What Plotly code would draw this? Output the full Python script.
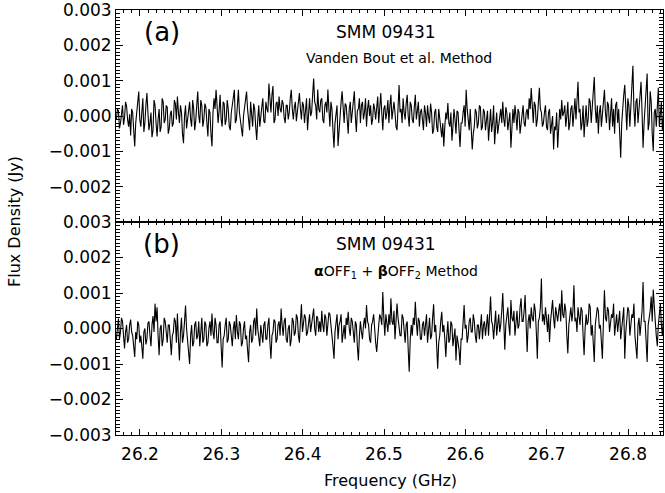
import numpy as np
import plotly.graph_objects as go

# Channel frequency grid (GHz)
freq_start = 26.171
freq_step = 0.00125

# Panel (a): Vanden Bout et al. method, flux in mJy
flux_a_mjy = [
    -0.1, 0.2, 0.15, -0.35, -0.2, 0.1, 0.3, -0.25, -0.05, 0.4, 0.28, -0.1, -0.3, 0.05, -0.55, 0.2, 0.1, -0.4, -0.86, -0.2,
    0.2, 0.4, 0.69, -0.1, -0.3, 0.2, 0.5, -0.45, -0.2, 0.3, 0.65, 0.1, -0.4, -0.2, 0.1, -0.6, -0.4, 0.45, 0.3, -0.2,
    -0.58, -0.1, 0.2, -0.45, -0.3, 0.5, 0.4, -0.2, -0.1, 0.3, 0.25, -0.5, -0.35, 0.05, 0.15, -0.3, -0.2, 0.45, 0.35, -0.1,
    0.55, 0.1, -0.2, 0.3, 0.1, -0.5, -0.77, 0.0, 0.3, -0.35, -0.1, 0.25, 0.4, -0.1, -0.3, 0.45, 0.2, -0.4, -0.15, 0.3,
    0.69, 0.0, -0.2, 0.45, 0.3, -0.3, -0.1, 0.35, 0.25, -0.2, -0.58, 0.2, 0.1, -0.5, -0.86, 0.1, 0.5, 0.2, 0.74, 0.3,
    -0.2, 0.15, 0.6, -0.1, -0.3, 0.4, 0.35, -0.25, -0.1, 0.45, 0.2, -0.3, -0.4, 0.1, 0.3, 0.5, 0.74, -0.2, -0.1, 0.3,
    0.74, 0.1, -0.2, -0.4, -0.58, 0.0, 0.3, 0.5, 0.69, 0.2, -0.1, -0.4, 0.4, 0.1, -0.3, 0.35, 0.2, -0.3, -0.68, -0.1,
    0.3, -0.3, -0.1, 0.25, 0.5, -0.15, -0.2, 0.4, 0.2, 0.1, 0.92, 0.3, 0.1, 0.6, 0.85, -0.2, -0.1, 0.35, 0.4, 0.0,
    0.55, 0.2, 0.1, 0.45, 0.35, -0.05, -0.2, 0.3, 0.3, -0.1, 0.1, 0.5, 0.74, 0.2, -0.1, 0.25, 0.4, -0.15, 0.2, 0.45,
    0.65, 0.2, -0.1, 0.4, 0.3, -0.2, 0.2, 0.5, -0.4, 0.1, 0.5, 0.0, 0.1, 0.6, 1.06, 0.4, 0.3, -0.1, 0.75, 0.2,
    0.1, 0.45, 0.5, -0.1, -0.2, 0.3, 0.4, 0.1, 0.75, 0.2, -0.3, 0.4, 0.2, -0.4, -0.9, -0.2, 0.1, 0.3, -0.85, -0.3,
    0.2, 0.4, 0.7, 0.1, -0.2, 0.35, 0.3, -0.1, -0.5, 0.2, 0.4, -0.2, 0.1, 0.5, 0.7, 0.0, -0.45, 0.15, 0.2, 0.5,
    -0.2, 0.3, 0.4, -0.1, 0.1, 0.5, -0.3, 0.2, 0.45, 0.0, 0.3, -0.25, -0.1, 0.35, 0.2, -0.1, 0.4, 0.55, -0.2, 0.25,
    0.65, 0.1, -0.4, 0.2, 0.3, -0.1, 0.1, 0.45, -0.2, 0.3, 0.6, -0.1, 0.2, 0.4, 0.1, -0.3, -0.4, 0.3, 0.88, 0.1,
    0.2, -0.2, 0.5, 0.1, -0.1, 0.35, 0.6, 0.0, -0.3, 0.4, 0.3, -0.1, -0.2, 0.25, 0.6, -0.1, 0.1, 0.4, -0.3, 0.1,
    0.2, -0.2, -0.4, 0.3, 0.1, -0.3, 0.3, 0.0, -0.2, 0.35, 0.1, -0.5, -0.4, 0.1, 0.2, -0.3, -0.45, 0.2, -0.1, -0.5,
    -0.6, -0.2, -0.86, -0.3, 0.1, -0.1, 0.37, -0.2, -0.3, 0.1, -0.7, -0.3, 0.2, -0.1, -0.5, 0.15, 0.1, -0.4, -0.88, -0.2,
    -0.2, 0.1, 0.3, -0.3, 0.74, 0.2, -0.1, -0.4, 0.2, -0.3, -0.95, -0.5, -0.3, 0.2, 0.1, -0.35, -0.2, 0.3, 0.25, -0.4,
    -0.3, 0.2, 0.1, -0.4, -0.1, 0.15, -0.7, -0.2, 0.2, -0.45, -0.2, 0.3, -0.8, -0.3, 0.1, -0.5, -0.3, 0.0, 0.2, -0.2,
    0.4, -0.1, -0.3, 0.25, 0.1, -0.4, -0.2, 0.1, -0.9, -0.3, 0.2, -0.2, 0.3, 0.0, -0.4, 0.2, 0.1, -0.5, -0.2, 0.15,
    0.3, -0.2, -0.3, 0.1, 0.2, -0.1, 0.5, 0.2, 0.79, 0.3, -0.2, 0.4, 0.3, -0.3, -0.1, 0.35, 0.8, 0.2, 0.1, -0.3,
    -0.2, 0.1, 0.3, -0.3, -0.4, 0.1, 0.2, -0.5, -0.2, 0.0, -0.95, -0.3, -0.4, 0.1, -0.9, -0.2, 0.2, -0.1, 0.45, 0.0,
    0.1, 0.3, -0.3, 0.0, 0.4, -0.4, -0.2, 0.2, 0.3, -0.3, 0.1, 0.5, -0.1, 0.4, 0.97, 0.1, 0.2, -0.4, -0.2, 0.3,
    -0.6, -0.1, 0.3, -0.3, -0.1, 0.5, 0.4, -0.2, 0.2, 0.6, 1.1, 0.2, -0.2, 0.3, -0.5, 0.1, 0.3, -0.3, 0.1, 0.5,
    0.74, 0.1, -0.2, 0.4, 0.3, -0.4, 0.1, 0.5, -0.3, 0.2, -0.5, 0.3, 0.4, -0.2, 0.2, -0.6, -1.18, -0.2, 0.3, 0.6,
    0.88, 0.1, -0.4, 0.5, 0.3, -0.3, 0.2, 0.7, 1.42, 0.2, -0.3, 0.4, 0.5, -0.2, 0.2, 0.6, 0.97, 0.1, -0.9, -0.2,
    0.3, 0.6, 1.2, -0.4, -0.2, 0.7, 0.4, -0.5, -1.0, 0.1, 0.2, -0.3, 0.5, 0.8, -0.3, 0.2, 0.4, -0.4, 0.1, 0.3,
]

# Panel (b): alpha OFF1 + beta OFF2 method, flux in mJy
flux_b_mjy = [
    -0.3, 0.0, 0.28, -0.3, -0.1, 0.3, 0.2, -0.2, -0.56, -0.1, 0.1, -0.4, -0.3, 0.1, 0.25, -0.1, -0.2, -0.5, -0.8, -0.1,
    -0.3, 0.2, 0.1, -0.4, -0.2, -0.5, -0.85, -0.1, 0.0, -0.45, -0.3, 0.15, 0.2, -0.2, -0.5, 0.1, 0.35, -0.1, 0.7, 0.2,
    0.6, -0.2, -0.75, 0.0, 0.1, -0.5, -0.3, 0.3, 0.2, -0.1, -0.4, 0.1, 0.1, -0.3, -0.75, -0.2, -0.1, 0.3, 0.2, -0.4,
    0.42, -0.3, -0.9, -0.1, 0.3, -0.4, -0.2, 0.2, 0.65, 0.0, -0.3, -0.6, -1.0, -0.2, 0.1, -0.5, -0.4, 0.1, 0.2, -0.3,
    -0.2, 0.2, -0.5, -0.1, 0.3, -0.4, -0.3, 0.2, 0.1, -0.5, -0.4, 0.0, 0.2, -0.2, 0.42, -0.1, -0.3, 0.3, 0.1, -0.4,
    -0.4, 0.1, 0.2, -0.5, -1.1, -0.3, -0.2, 0.1, 0.3, -0.4, -0.3, 0.2, 0.1, -0.2, -0.5, 0.0, 0.2, -0.3, 0.38, -0.1,
    -0.3, 0.2, 0.1, -0.5, -0.4, 0.0, 0.2, -0.3, -0.2, -0.6, -0.95, -0.1, 0.1, -0.4, -0.3, 0.2, 0.3, -0.2, 0.56, 0.0,
    -0.2, -0.5, 0.1, -0.2, -0.4, 0.1, 0.2, -0.3, -0.3, 0.1, 0.3, -0.4, -0.85, -0.2, -0.1, 0.25, 0.2, -0.4, -0.3, 0.1,
    0.2, -0.2, 0.56, 0.1, -0.2, 0.2, 0.3, -0.3, -0.4, 0.0, 0.1, -0.5, -0.3, 0.3, 0.2, -0.2, -0.1, 0.4, 0.3, -0.2,
    -0.4, 0.2, 0.68, -0.1, 0.1, 0.4, 0.3, -0.2, -0.1, 0.25, 0.4, -0.1, 0.1, 0.3, 0.56, 0.0, -0.2, 0.35, 0.3, -0.1,
    0.2, -0.1, 0.5, 0.1, -0.1, 0.4, 0.3, -0.2, 0.1, 0.45, 0.4, 0.0, -0.2, -0.5, -0.85, -0.1, 0.2, 0.4, -0.3, 0.1,
    0.2, 0.4, -0.4, -0.1, 0.1, -0.3, 0.3, 0.1, 0.47, 0.0, -0.2, 0.3, 0.2, -0.1, -0.4, 0.2, 0.1, -0.5, -0.9, -0.2,
    0.2, -0.1, -0.3, 0.1, 0.3, 0.0, 0.66, 0.2, 0.1, -0.3, -0.4, 0.1, 0.2, 0.4, -0.2, -0.4, -0.66, -0.1, 0.1, 0.4,
    0.3, 0.1, 1.03, 0.3, -0.2, 0.4, 0.2, -0.1, 0.4, 0.1, 0.85, 0.2, 0.1, 0.5, -0.3, 0.1, 0.7, 0.3, 0.1, -0.2,
    -0.2, 0.4, 0.3, -0.1, -0.4, 0.1, 0.2, -0.6, -1.22, -0.3, 0.1, -0.2, 0.3, 0.1, 0.75, 0.2, -0.2, 0.3, 0.2, -0.3,
    -0.3, 0.1, 0.2, -0.2, 0.1, 0.4, -0.4, 0.0, 0.3, -0.3, -0.2, 0.3, 0.68, -0.1, 0.1, -0.5, -1.13, -0.4, -0.2, 0.2,
    0.47, -0.1, 0.1, -0.3, -0.8, -0.2, 0.2, -0.4, -0.3, 0.2, 0.1, -0.5, -0.3, 0.0, -0.9, -0.2, -0.4, -0.6, -1.03, -0.3,
    -0.3, 0.2, 0.66, 0.0, 0.1, -0.4, -0.2, 0.2, 0.3, -0.1, -0.1, 0.4, 0.2, -0.2, -0.4, 0.1, 0.1, -0.3, 0.2, 0.4,
    -0.3, 0.1, 0.2, -0.2, 0.1, 0.4, -0.2, 0.3, 0.9, 0.2, 0.1, -0.3, 0.3, 0.5, -0.2, 0.2, 0.4, -0.1, 0.1, 0.5,
    1.0, 0.2, -0.6, 0.1, 0.3, 0.6, 0.1, -0.2, 0.8, 0.3, 0.2, 0.5, -0.2, 0.3, 0.5, 0.0, 0.1, 0.6, 0.85, 0.2,
    0.2, 0.5, 0.94, 0.1, -0.66, 0.2, 0.4, 0.0, 0.6, 0.3, 0.2, 0.7, 0.5, -0.1, -0.85, 0.2, 0.3, 0.6, 1.41, 0.2,
    0.4, 0.1, 0.6, 0.3, -0.1, 0.4, -0.38, 0.2, 0.5, 0.8, 0.3, 0.0, 0.6, 0.3, 0.2, 0.5, 0.7, 0.2, 1.08, 0.4,
    0.3, 0.7, 0.5, -0.2, -0.7, 0.1, 0.4, 0.6, 0.2, 0.5, 1.22, 0.2, 0.3, -0.1, 0.6, 0.3, 0.1, 0.6, 0.5, -0.2,
    -0.75, 0.0, 0.4, 0.1, 0.2, 0.7, 0.6, -0.2, 0.1, -0.4, -0.94, 0.1, 0.3, 0.6, 0.5, 0.0, 0.1, -0.3, -0.85, 0.2,
    1.08, 0.3, 0.2, 0.6, 0.5, -0.1, 0.1, 0.4, 0.3, 0.7, -0.2, 0.2, 0.4, -0.1, 0.2, 0.5, -0.3, 0.1, 0.3, 0.6,
    -0.85, -0.1, 0.2, 0.6, 0.5, -0.2, 0.1, 0.4, 0.3, 0.7, -0.2, -0.5, -0.85, 0.1, 0.3, -0.2, 0.1, 0.5, 1.31, 0.2,
    0.2, -0.3, -0.94, 0.1, 0.3, 0.5, 0.9, 0.2, 1.1, 0.4, 0.2, -0.2, -0.5, 0.1, 0.4, 0.7, 0.1, -0.2, 0.3, 0.5,
]

x_tick0 = 26.2
x_dtick = 0.1
y_dtick = 0.001

freq = np.round(freq_start + freq_step * np.arange(len(flux_a_mjy)), 6)
flux_a = np.array(flux_a_mjy) * 1e-3
flux_b = np.array(flux_b_mjy) * 1e-3

FONT = "DejaVu Sans"

fig = go.Figure()
fig.add_trace(go.Scatter(x=freq, y=flux_a, mode="lines",
                         line=dict(color="black", width=1.1),
                         xaxis="x", yaxis="y", showlegend=False))
fig.add_trace(go.Scatter(x=freq, y=flux_b, mode="lines",
                         line=dict(color="black", width=1.1),
                         xaxis="x2", yaxis="y2", showlegend=False))

xcommon = dict(range=[26.1705, 26.843], showline=True, linecolor="black",
               linewidth=1, mirror="allticks", ticks="inside", ticklen=6,
               tickcolor="black", showgrid=False, zeroline=False,
               tickmode="linear", tick0=x_tick0, dtick=x_dtick,
               automargin=False,
               minor=dict(dtick=0.01, tick0=26.2, ticks="inside", ticklen=3,
                          tickcolor="black", showgrid=False))
ycommon = dict(range=[-0.003, 0.003], showline=True, linecolor="black",
               linewidth=1, mirror="allticks", ticks="inside", ticklen=7,
               tickcolor="black", showgrid=False, zeroline=False,
               tickmode="linear", tick0=0, dtick=y_dtick,
               tickformat=".3f", automargin=False,
               ticklabeloverflow="allow",
               tickfont=dict(family=FONT, size=17, color="black"),
               minor=dict(dtick=0.0001, tick0=0, ticks="inside", ticklen=4,
                          tickcolor="black", showgrid=False))

split = 213 / 425

fig.update_layout(
    width=665, height=493, autosize=False,
    margin=dict(l=116, r=2, t=10, b=58),
    paper_bgcolor="white", plot_bgcolor="white",
    font=dict(family=FONT, color="black"),
    xaxis=dict(**xcommon, anchor="y", showticklabels=False, matches="x2"),
    yaxis=dict(**ycommon, domain=[split, 1.0], anchor="x",
               labelalias={"\u22120.003": " ", "-0.003": " "}),
    xaxis2=dict(**xcommon, anchor="y2", ticklabelstandoff=4,
                tickfont=dict(family=FONT, size=17, color="black")),
    yaxis2=dict(**ycommon, domain=[0.0, split], anchor="x2"),
)

annots = [
    dict(text="(a)", x=0.084, y=0.948, size=26),
    dict(text="SMM 09431", x=0.494, y=0.948, size=17),
    dict(text="Vanden Bout et al. Method", x=0.517, y=0.887, size=14),
    dict(text="(b)", x=0.084, y=0.449, size=26),
    dict(text="SMM 09431", x=0.494, y=0.449, size=17),
    dict(text="<b>α</b>OFF<sub>1</sub> + <b>β</b>OFF<sub>2</sub> Method",
         x=0.512, y=0.384, size=14),
]
for a in annots:
    fig.add_annotation(text=a["text"], x=a["x"], y=a["y"], xref="paper",
                       yref="paper", showarrow=False, xanchor="center",
                       yanchor="middle",
                       font=dict(family=FONT, size=a["size"], color="black"))

fig.add_annotation(text="Flux Density (Jy)", x=-(116 - 15) / 547,
                   y=(435 - 222) / 425,
                   xref="paper", yref="paper", showarrow=False,
                   textangle=-90, xanchor="center", yanchor="middle",
                   font=dict(family=FONT, size=16, color="black"))
fig.add_annotation(text="Frequency (GHz)", x=(390 - 116) / 547,
                   y=(435 - 480) / 425,
                   xref="paper", yref="paper", showarrow=False,
                   xanchor="center", yanchor="middle",
                   font=dict(family=FONT, size=16, color="black"))

fig.write_html("out.html",
               config={"responsive": False, "displayModeBar": False},
               default_width="665px", default_height="493px",
               post_script="document.body.style.margin='0';"
                           "document.body.style.overflow='hidden';")
